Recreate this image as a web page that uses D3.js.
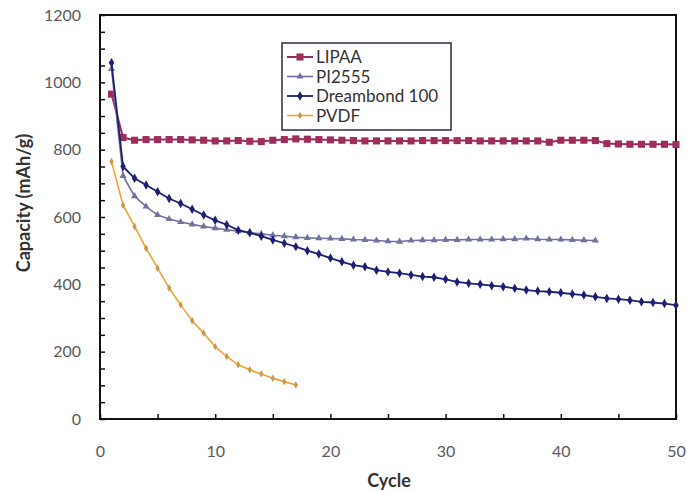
<!DOCTYPE html>
<html>
<head>
  <meta charset="utf-8">
  <title>Capacity vs Cycle</title>
  <style>
    body { margin: 0; background: #fff; }
    svg text { font-family: Lato, "Liberation Sans", sans-serif; }
  </style>
</head>
<body>
  <svg id="chart"></svg>

  <script src="https://d3js.org/d3.v7.min.js"></script>
  <script>
    // data (capacity in mAh/g, one value per cycle starting at 1)
    const lipaa = [965, 836, 828, 830, 830, 830, 830, 829, 828, 826, 826, 827, 825, 824, 828, 830, 832, 831, 830, 829,
                   828, 827, 826, 826, 826, 826, 826, 827, 827, 827, 827, 827, 826, 826, 826, 826, 826, 826, 822, 828,
                   828, 828, 827, 818, 817, 816, 816, 816, 816, 815];
    const pi2555 = [1040, 722, 662, 631, 606, 594, 585, 578, 572, 567, 562, 558, 554, 550, 546, 543, 540, 538, 537, 536,
                    535, 533, 532, 530, 528, 527, 530, 531, 531, 532, 532, 533, 533, 533, 534, 534, 536, 534, 533, 533,
                    532, 531, 530];
    const dreambond = [1058, 750, 715, 695, 675, 655, 640, 623, 606, 590, 577, 561, 553, 543, 532, 522, 512, 500, 490, 478,
                       467, 457, 452, 442, 437, 433, 428, 423, 421, 415, 407, 403, 400, 396, 393, 388, 383, 380, 378, 375,
                       371, 368, 363, 358, 356, 353, 348, 346, 343, 338];
    const pvdf = [765, 635, 572, 507, 448, 389, 339, 292, 255, 215, 186, 161, 146, 134, 121, 111, 101];

    const seriesNames = ["LIPAA", "PI2555", "Dreambond 100", "PVDF"];
    const xTicks = [0, 10, 20, 30, 40, 50];
    const yTicks = [0, 200, 400, 600, 800, 1000, 1200];

    const width = 687, height = 492;
    const margin = { left: 100, right: 11, top: 15, bottom: 73 };

    const svg = d3.select("#chart").attr("width", width).attr("height", height);

    const x = d3.scaleLinear().domain([0, 50]).range([margin.left, width - margin.right]);
    const y = d3.scaleLinear().domain([0, 1200]).range([height - margin.bottom, margin.top]);

    // series styles
    const series = [
      { name: seriesNames[0], values: lipaa, color: "#9e2c5c", symbol: d3.symbolSquare, size: 50, stroke: 2 },
      { name: seriesNames[1], values: pi2555, color: "#70739e", symbol: d3.symbolTriangle, size: 22, stroke: 1.6 },
      { name: seriesNames[2], values: dreambond, color: "#1d1f72", symbol: d3.symbolDiamond, size: 26, stroke: 1.8 },
      { name: seriesNames[3], values: pvdf, color: "#f2a234", symbol: d3.symbolDiamond, size: 16, stroke: 1.6, markerColor: "#c9974c" }
    ];

    // minor ticks on y (every 50) and x (every 5), pointing inwards
    svg.append("g")
      .attr("transform", `translate(${margin.left},0)`)
      .call(d3.axisRight(y).tickValues(d3.range(0, 1201, 50)).tickSize(5).tickFormat(""))
      .call(g => g.select(".domain").remove())
      .selectAll("line").attr("stroke", "#111").attr("stroke-width", 1.5);

    svg.append("g")
      .attr("transform", `translate(0,${height - margin.bottom})`)
      .call(d3.axisTop(x).tickValues(d3.range(0, 51, 5)).tickSize(5).tickFormat(""))
      .call(g => g.select(".domain").remove())
      .selectAll("line").attr("stroke", "#111").attr("stroke-width", 1.5);

    // tick labels
    svg.append("g")
      .attr("transform", `translate(${margin.left - 16},0)`)
      .call(d3.axisLeft(y).tickValues(yTicks).tickSize(0).tickFormat(d3.format("d")))
      .call(g => g.select(".domain").remove())
      .selectAll("text")
      .attr("fill", "#5a5a5a").style("font-size", "16px");

    svg.append("g")
      .attr("transform", `translate(0,${height - margin.bottom + 24})`)
      .call(d3.axisBottom(x).tickValues(xTicks).tickSize(0))
      .call(g => g.select(".domain").remove())
      .selectAll("text")
      .attr("fill", "#5a5a5a").style("font-size", "16px");

    // frame
    svg.append("rect")
      .attr("x", x(0)).attr("y", y(1200))
      .attr("width", x(50) - x(0)).attr("height", y(0) - y(1200))
      .attr("fill", "none").attr("stroke", "#111").attr("stroke-width", 2);

    // axis titles
    svg.append("text")
      .attr("x", (x(0) + x(50)) / 2 + 1).attr("y", 487)
      .attr("text-anchor", "middle")
      .style("font-size", "18px").style("font-weight", "bold").attr("fill", "#333")
      .text("Cycle");

    svg.append("text")
      .attr("transform", `translate(30,${(y(0) + y(1200)) / 2 - 14}) rotate(-90)`)
      .attr("text-anchor", "middle")
      .style("font-size", "18px").style("font-weight", "bold").attr("fill", "#333")
      .text("Capacity (mAh/g)");

    // lines and markers
    const line = d3.line().x((d, i) => x(i + 1)).y(d => y(d));

    series.forEach(s => {
      const g = svg.append("g");
      g.append("path")
        .datum(s.values)
        .attr("d", line)
        .attr("fill", "none")
        .attr("stroke", s.color)
        .attr("stroke-width", s.stroke);
      g.selectAll("path.pt")
        .data(s.values)
        .enter().append("path")
        .attr("class", "pt")
        .attr("transform", (d, i) => `translate(${x(i + 1)},${y(d)})`)
        .attr("d", d3.symbol().type(s.symbol).size(s.size))
        .attr("fill", s.markerColor || s.color);
    });

    // legend
    const legend = svg.append("g").attr("transform", "translate(282,43)");
    legend.append("rect")
      .attr("width", 169).attr("height", 87)
      .attr("fill", "#fff").attr("stroke", "#2b2b45").attr("stroke-width", 1.5);

    const items = legend.selectAll(".legend-item")
      .data(series)
      .enter().append("g")
      .attr("class", "legend-item")
      .attr("transform", (d, i) => `translate(0,${14 + i * 19.5})`);

    items.append("line")
      .attr("x1", 5).attr("x2", 31)
      .attr("stroke", d => d.color).attr("stroke-width", d => d.stroke);
    items.append("path")
      .attr("transform", "translate(18,0)")
      .attr("d", d => d3.symbol().type(d.symbol).size(d.size)())
      .attr("fill", d => d.markerColor || d.color);
    items.append("text")
      .attr("x", 34).attr("y", 6)
      .style("font-size", "17px").attr("fill", "#333")
      .text(d => d.name);
  </script>
</body>
</html>
